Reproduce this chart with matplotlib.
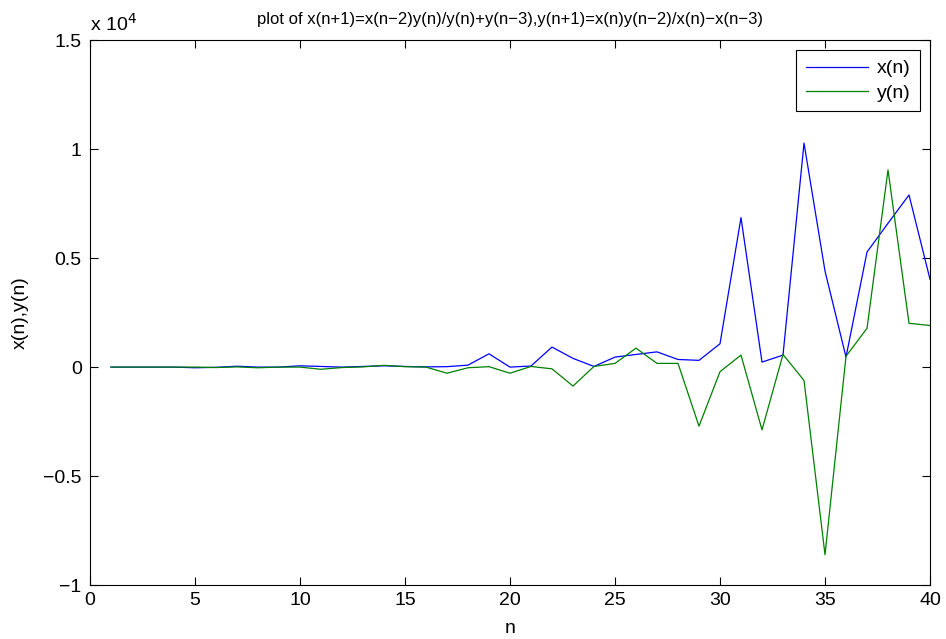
import matplotlib
matplotlib.use("Agg")
import matplotlib.pyplot as plt
import numpy as np

plt.rcParams['font.family'] = ['Liberation Sans', 'DejaVu Sans']

n = list(range(1, 41))
x_vals = [0, 0, 0, 0, -30, -10, 40, 0, 0, 60,
          30, 0, 30, 60, 30, 10, 20, 90, 610, 0,
          50, 920, 400, 30, 460, 580, 700, 350, 310, 1070,
          6860, 230, 550, 10280, 4410, 460, 5280, 6600, 7900, 4030]
y_vals = [0, 0, 0, 0, 0, -20, 10, -30, 0, 0,
          -100, -20, 10, 80, 20, 0, -280, -30, 20, -280,
          30, -80, -870, 30, 170, 870, 170, 170, -2710, -210,
          550, -2880, 580, -610, -8610, 500, 1780, 9050, 2010, 1910]

yticks = [-1e4, -0.5e4, 0, 0.5e4, 1e4, 1.5e4]
ytick_labels = ['\u22121', '\u22120.5', '0', '0.5', '1', '1.5']
xticks = [0, 5, 10, 15, 20, 25, 30, 35, 40]

fig = plt.figure(figsize=(9.46, 6.39), dpi=100)
ax = fig.add_axes([0.0951, 0.0845, 0.888, 0.8525])

ax.plot(n, x_vals, color='#0000ff', lw=0.9, label='x(n)')
ax.plot(n, y_vals, color='#008000', lw=0.9, label='y(n)')

ax.set_xlim(0, 40)
ax.set_ylim(-1e4, 1.5e4)
ax.set_xticks(xticks)
ax.set_xticklabels([str(t) for t in xticks], fontsize=14)
ax.set_yticks(yticks)
ax.set_yticklabels(ytick_labels, fontsize=14)
ax.tick_params(direction='in', top=True, right=True, length=6, width=0.8)
ax.tick_params(axis='y', pad=6)
ax.tick_params(axis='x', pad=5)
for s in ax.spines.values():
    s.set_linewidth(0.8)

ax.set_xlabel('n', fontsize=14, labelpad=8)
ax.set_ylabel('x(n),y(n)', fontsize=14, labelpad=10)
ax.set_title('plot of x(n+1)=x(n\u22122)y(n)/y(n)+y(n\u22123),y(n+1)=x(n)y(n\u22122)/x(n)\u2212x(n\u22123)',
             fontsize=12, pad=12)
ax.text(0.0, 1.01, 'x 10$^4$', transform=ax.transAxes, fontsize=14,
        ha='left', va='bottom')

leg = ax.legend(loc='upper right', fontsize=14, handlelength=3.2,
                fancybox=False, framealpha=1, edgecolor='black',
                borderaxespad=0.5, borderpad=0.5, labelspacing=0.34,
                handletextpad=0.45)
leg.get_frame().set_linewidth(0.8)

fig.savefig('out.png', dpi=100)
